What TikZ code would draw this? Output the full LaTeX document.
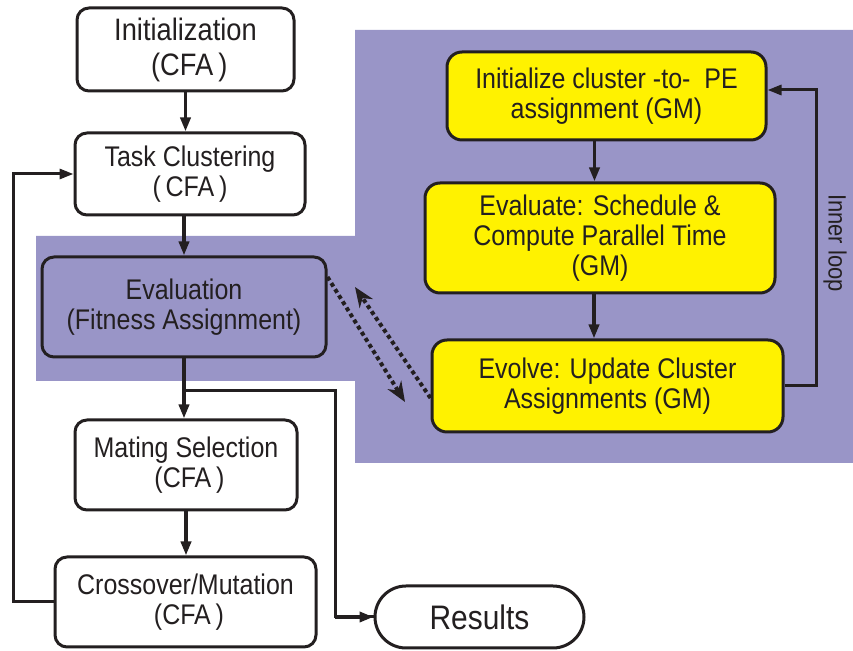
\documentclass[tikz,border=0pt]{standalone}
\usepackage{fontspec}
\setmainfont{Liberation Sans}[FakeStretch=0.88]
\usepackage{tikz}
\usetikzlibrary{arrows.meta, calc}
\definecolor{loopblue}{RGB}{153,149,199}
\definecolor{gmyellow}{RGB}{255,242,0}
\definecolor{inkgray}{RGB}{35,31,32}

\begin{document}
\begin{tikzpicture}[x=0.5pt, y=-0.5pt,
  every node/.style={align=center, font=\fontsize{14.2}{15}\selectfont, text=inkgray},
  box/.style={draw=inkgray, line width=1.5pt, rounded corners=6pt, inner sep=0pt},
  cfa/.style={box, fill=white},
  gm/.style={box, fill=gmyellow, rounded corners=7.5pt},
  arrow/.style={-{Triangle[length=7pt,width=5pt]}, line width=1.8pt, draw=inkgray},
  loopline/.style={-{Triangle[length=7pt,width=5pt]}, line width=1.5pt, draw=inkgray},
  dotarrow/.style={-{Stealth[length=10pt,width=8pt]}, line width=2pt, dash pattern=on 2pt off 1.6pt, draw=inkgray}]
\useasboundingbox (0,0) rectangle (853,651);
\fill[loopblue] (36,236) -- (355,236) -- (355,30) -- (853,30) -- (853,463)
  -- (355,463) -- (355,381) -- (36,381) -- cycle;

\node[cfa, minimum width=108.5pt, minimum height=41.5pt, font=\fontsize{15.5}{17.5}\selectfont] (init) at (185.5,49.5) {Initialization\\\ (CFA\,)};
\node[cfa, minimum width=115pt, minimum height=41pt] (task) at (190,174) {Task Clustering\hspace{12pt}\\(\,CFA\,)\hspace{6pt}};
\node[box, fill=loopblue, minimum width=142pt, minimum height=50pt] (eval) at (184,307) {Evaluation\\(Fitness Assignment)};
\node[cfa, minimum width=111pt, minimum height=45pt] (mating) at (186,465) {Mating Selection\\\ (CFA\,)};
\node[cfa, minimum width=130.5pt, minimum height=45pt] (cross) at (185.5,602) {Crossover/Mutation\\\ (CFA\,)};
\node[cfa, minimum width=104.5pt, minimum height=31pt, rounded corners=15.5pt, font=\fontsize{17}{20}\selectfont] (results) at (479.5,617) {Results};

\node[gm, minimum width=159.5pt, minimum height=44pt] (initc) at (606.5,96) {Initialize cluster -to-\ \ PE\\assignment (GM)};
\node[gm, minimum width=175pt, minimum height=55pt] (evalc) at (600,238) {Evaluate: Schedule \&\\Compute Parallel Time\\(GM)};
\node[gm, minimum width=175.5pt, minimum height=46pt] (evolve) at (607.5,386) {Evolve: Update Cluster\\Assignments (GM)};
\node[rotate=-90, font=\fontsize{12.5}{14}\selectfont] (inner) at (835,243) {Inner loop};

\coordinate (split) at (185,391);
\coordinate (bend) at (335,391);
\coordinate (dotend1) at (405,402);
\coordinate (dotend2) at (355,287);

\draw[arrow] (init.south) -- (init.south |- task.north);
\draw[arrow] (task.south -| eval.north) -- (eval.north);
\draw[arrow] (eval.south) -- (eval.south |- mating.north);
\draw[arrow] (mating.south) -- (mating.south |- cross.north);
\draw[loopline, -] (split) -- (bend) |- (results.west);
\draw[arrow, line width=2.3pt] (bend |- results.west) -- (results.west);
\draw[loopline] (cross.west) -- ++(-40,0) |- (task.west);

\draw[arrow] ([xshift=-6pt]initc.south) -- ([xshift=-6pt]initc.south |- evalc.north);
\draw[arrow] ([xshift=-3pt]evalc.south) -- ([xshift=-3pt]evalc.south |- evolve.north);
\draw[loopline] (evolve.east) -- ++(32,0) |- ([yshift=3pt]initc.east);

\draw[dotarrow] ($(eval.east)+(0,-30)$) -- (dotend1);
\draw[dotarrow] ($(evolve.west)+(0,12)$) -- (dotend2);
\end{tikzpicture}
\end{document}
